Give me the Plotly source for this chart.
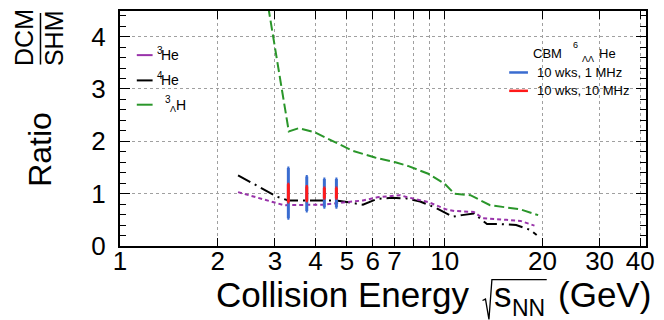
import plotly.graph_objects as go

# ---------------- data ----------------
# 3He (DCM/SHM)
he3_energy = [2.31, 3.2, 4.2, 5.0, 5.6, 6.2, 7.3, 7.7, 8.9, 10.1, 10.7, 12.3, 13.1, 15.5, 17.1, 18.9]
he3_ratio = [1.03, 0.78, 0.79, 0.83, 0.87, 0.93, 0.97, 0.93, 0.84, 0.70, 0.67, 0.65, 0.53, 0.50, 0.48, 0.39]
# 4He
he4_energy = [2.31, 3.05, 3.3, 4.6, 5.0, 5.6, 6.2, 6.9, 7.6, 8.4, 9.3, 10.2, 10.6, 11.3, 12.3, 13.5, 14.7, 16.6, 18.3, 19.2]
he4_ratio = [1.35, 0.94, 0.87, 0.87, 0.84, 0.79, 0.90, 0.92, 0.91, 0.85, 0.74, 0.62, 0.56, 0.59, 0.62, 0.42, 0.42, 0.40, 0.31, 0.21]
# 3LambdaH
h3l_energy = [2.32, 3.31, 3.55, 3.99, 5.2, 6.1, 7.05, 7.7, 8.9, 10.0, 10.7, 12.0, 13.8, 17.1, 19.4]
h3l_ratio = [8.0, 2.19, 2.25, 2.17, 1.82, 1.69, 1.60, 1.53, 1.38, 1.19, 1.00, 0.97, 0.78, 0.70, 0.59]
# CBM 6LambdaLambdaHe projections
cbm_energy = [3.3, 3.76, 4.26, 4.64]
cbm_center = [1.01, 1.00, 1.01, 1.01]
cbm_err_1mhz = [0.48, 0.33, 0.27, 0.27]
cbm_err_10mhz = [0.17, 0.135, 0.10, 0.10]

x_tickvals = [1, 2, 3, 4, 5, 6, 7, 8, 9, 10, 20, 30, 40]
x_ticktext = ["1", "2", "3", "4", "5", "6", "7", "", "", "10", "20", "30", "40"]
y_tickvals = [0, 1, 2, 3, 4]
y_ticktext = ["0", "1", "2", "3", "4"]

# ---------------- styling ----------------
FONT = "Liberation Sans, Arial, Helvetica, sans-serif"
PURPLE = "#9933aa"
GREEN = "#2a962a"
BLUE = "#3a6cd0"
RED = "#ff1a1a"

W, H = 664, 320
L, R, T, B = 120, 652.5, 9, 246


def px(x):
    return (x - L) / (R - L)


def py(y):
    return (B - y) / (B - T)


fig = go.Figure()

fig.add_trace(go.Scatter(x=h3l_energy, y=h3l_ratio, mode="lines",
                         line=dict(color=GREEN, width=2, dash="10px,4px")))
fig.add_trace(go.Scatter(x=he4_energy, y=he4_ratio, mode="lines",
                         line=dict(color="black", width=2, dash="14px,5px,2px,5px")))
fig.add_trace(go.Scatter(x=he3_energy, y=he3_ratio, mode="lines",
                         line=dict(color=PURPLE, width=2, dash="4px,3px")))
fig.add_trace(go.Scatter(x=cbm_energy, y=cbm_center, mode="markers",
                         marker=dict(size=1, opacity=0),
                         error_y=dict(type="data", array=cbm_err_1mhz, color=BLUE,
                                      thickness=3, width=1)))
fig.add_trace(go.Scatter(x=cbm_energy, y=cbm_center, mode="markers",
                         marker=dict(size=1, opacity=0),
                         error_y=dict(type="data", array=cbm_err_10mhz, color=RED,
                                      thickness=3, width=1)))

annotations = []
shapes = []


def text(x, y, s, size, xanchor="left", yanchor="middle", angle=0):
    annotations.append(dict(x=px(x), y=py(y), xref="paper", yref="paper", text=s,
                            showarrow=False, xanchor=xanchor, yanchor=yanchor,
                            textangle=angle, borderpad=0,
                            font=dict(family=FONT, size=size, color="black")))


def seg(x0, y0, x1, y1, color, width=2):
    shapes.append(dict(type="line", xref="paper", yref="paper",
                       x0=px(x0), y0=py(y0), x1=px(x1), y1=py(y1),
                       line=dict(color=color, width=width)))


# y-axis title:  Ratio  DCM/SHM
text(39, 148, "Ratio", 32, xanchor="center", angle=-90)
text(23, 36, "DCM", 25, xanchor="center", angle=-90)
text(53, 36.5, "SHM", 25, xanchor="center", angle=-90)
seg(39.5, 11, 39.5, 63, "black", 1.5)

# x-axis title: Collision Energy sqrt(s_NN) (GeV)
text(216, 294.5, "Collision Energy", 35)
text(497.5, 294.5, "s", 35)
text(516, 309, "NN", 23)
text(562, 294.5, "(GeV)", 35)
shapes.append(dict(type="path", xref="paper", yref="paper",
                   path="M {} {} L {} {} L {} {} L {} {} L {} {}".format(
                       px(487), py(301), px(490), py(299.5), px(493.5), py(320),
                       px(496.5), py(280), px(552), py(280)),
                   line=dict(color="black", width=1.3)))

# left legend
leg_rows = [(53.5, PURPLE), (79, "black"), (103.5, GREEN)]
for yy, col in leg_rows:
    seg(137, yy, 153, yy, col, 2)
text(156.5, 49, "3", 10)
text(161, 53.5, "He", 14)
text(156.5, 74.5, "4", 10)
text(161, 79, "He", 14)
text(164.5, 98, "3", 10)
text(170, 107.5, "Λ", 9)
text(176, 103.5, "H", 14)

# right legend
text(537, 52, "CBM", 13)
text(578, 43, "6", 9)
text(587, 57, "ΛΛ", 9)
text(604, 52, "He", 13)
seg(514, 71, 533, 71, BLUE, 2.5)
seg(514, 89.5, 533, 89.5, RED, 2.5)
text(541, 71, "10 wks, 1 MHz", 13)
text(541, 89.5, "10 wks, 10 MHz", 13)

axis_common = dict(showline=True, linewidth=2, linecolor="black", mirror="ticks",
                   ticks="inside", tickcolor="black", tickwidth=1,
                   showgrid=True, griddash="dot", gridcolor="#a0a0a0", gridwidth=1,
                   zeroline=False, tickfont=dict(family=FONT, size=26, color="black"))

fig.update_layout(
    width=W, height=H,
    margin=dict(l=L, r=W - R, t=T, b=H - B),
    paper_bgcolor="white", plot_bgcolor="white",
    showlegend=False,
    annotations=annotations, shapes=shapes,
    xaxis=dict(type="log", range=[0, 1.62], tickvals=x_tickvals, ticktext=x_ticktext,
               ticklen=8, ticklabelstandoff=-9, **axis_common),
    yaxis=dict(range=[0, 4.49], tickvals=y_tickvals, ticktext=y_ticktext,
               ticklen=10, ticklabelstandoff=7,
               minor=dict(dtick=0.2, ticks="inside", ticklen=6, tickcolor="black", showgrid=False),
               **axis_common),
)

fig.write_html("out.html", config={"displayModeBar": False, "staticPlot": True},
               post_script="document.body.style.margin='0';document.body.style.padding='0';")
